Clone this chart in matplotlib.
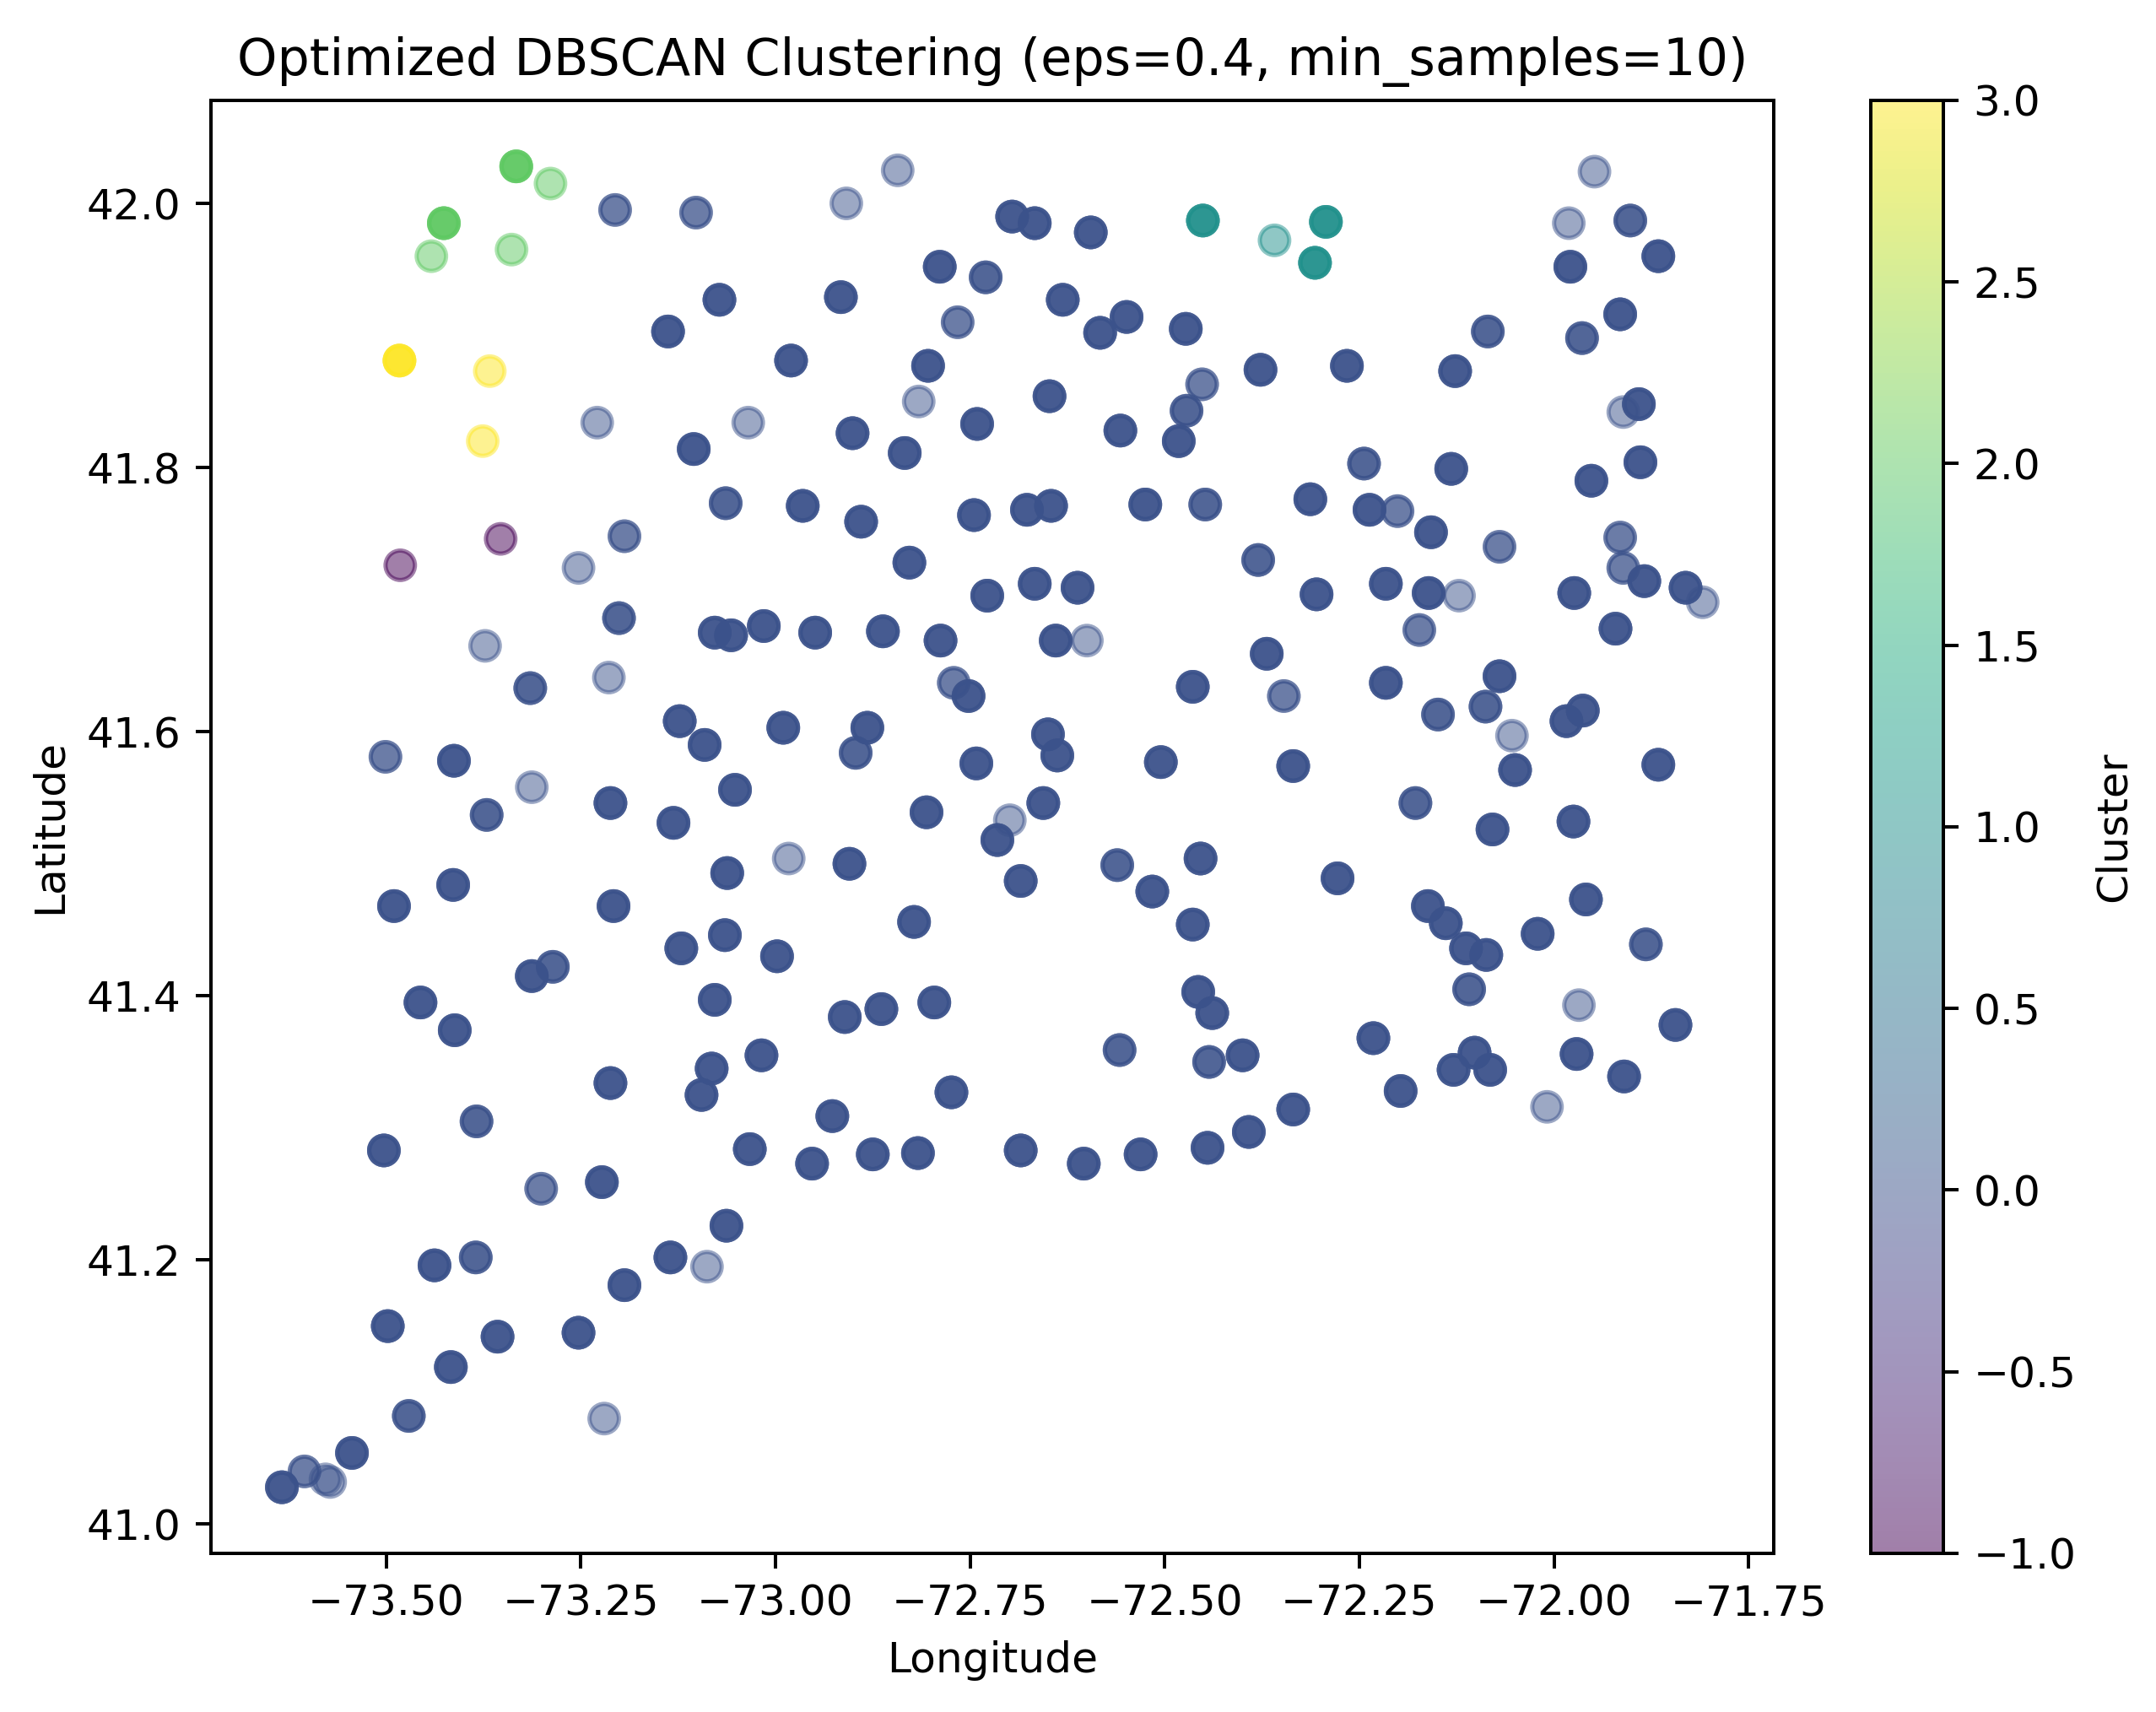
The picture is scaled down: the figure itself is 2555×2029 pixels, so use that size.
import numpy as np
import matplotlib
matplotlib.use('Agg')
import matplotlib.pyplot as plt


# station coordinates, one entry per visible marker
lon = [
    # cluster 3 / 2 / 1 / -1
    -73.483, -73.367, -73.376,
    -73.333, -73.289, -73.426, -73.442, -73.339,
    -72.451, -72.359, -72.293, -72.307,
    -73.353, -73.482,
    # cluster 0, north-west
    -73.206, -73.102, -73.072, -73.138, -73.229, -73.105, -73.064, -73.194, -73.253,
    # north-centre
    -72.843, -72.909, -72.696, -72.667, -72.595, -72.789, -72.730, -72.916, -72.766,
    -72.631, -72.583, -72.549, -72.473, -72.377, -72.452, -72.472, -72.482, -72.980,
    -72.804, -72.816, -73.035, -72.901, -72.834, -72.741, -72.648, -72.557, -72.965,
    -72.890, -72.745, -72.677, -72.646, -72.525, -72.448, -72.380, -72.828, -72.728,
    -72.667, -72.612,
    # north-east
    -71.948, -71.981, -71.902, -71.979, -71.866, -71.915, -71.964, -72.085, -72.266,
    -72.127, -71.911, -71.891, -72.244, -72.132, -71.952, -71.889, -72.313, -72.237,
    -72.201, -72.158, -72.070, -71.915, -71.911, -71.884, -71.831, -71.809, -71.974,
    -72.161, -72.122, -72.216, -72.305,
    # middle-west
    -73.201, -73.078, -73.057, -73.373, -73.315, -73.214, -73.123, -73.091, -73.501,
    -73.413, -73.313, -73.371, -73.212, -73.131, -73.414, -73.490, -73.208, -73.121,
    -73.313, -73.286, -73.078, -73.456, -73.412, -73.212, -73.082, -73.095,
    # middle-centre
    -73.015, -72.949, -72.862, -72.788, -72.640, -72.600, -72.771, -72.752, -72.464,
    -72.990, -72.882, -72.897, -72.650, -72.638, -72.742, -72.505, -73.052, -72.806,
    -72.656, -72.699, -72.715, -72.983, -72.905, -73.062, -72.685, -72.561, -72.454,
    -72.516, -72.464, -72.822, -73.065, -72.998, -72.911, -72.864, -72.796, -72.457,
    -72.439, -73.018, -72.558, -72.443, -72.400, -72.774,
    # middle-east
    -72.173, -71.921, -72.369, -72.347, -72.216, -72.070, -72.149, -72.088, -72.054,
    -71.984, -71.963, -72.335, -72.050, -71.866, -72.178, -72.079, -71.975, -72.278,
    -72.162, -72.139, -72.113, -72.087, -72.021, -71.959, -71.882, -72.109, -71.968,
    -71.844, -72.232, -72.129, -72.102, -72.082, -71.971, -71.910, -72.197,
    # south-west
    -73.384, -73.503, -73.301, -73.223, -73.063, -73.438, -73.385, -73.135, -73.088,
    -73.194, -73.498, -73.357, -73.253, -73.417, -73.471, -73.220, -73.544, -73.634,
    -73.605, -73.578, -73.572,
    # south coast
    -72.927, -73.033, -72.953, -72.875, -72.817, -72.685, -72.604, -72.531, -72.445,
    -72.392, -72.335, -72.009,
]

lat = [
    41.881, 41.873, 41.820,
    42.028, 42.015, 41.985, 41.960, 41.965,
    41.987, 41.972, 41.986, 41.955,
    41.746, 41.726,
    41.995, 41.993, 41.927, 41.903, 41.834, 41.814, 41.773, 41.748, 41.724,
    42.025, 42.000, 41.990, 41.985, 41.978, 41.952, 41.944, 41.929, 41.910,
    41.927, 41.902, 41.914, 41.905, 41.874, 41.863, 41.843, 41.820, 41.881,
    41.877, 41.850, 41.834, 41.826, 41.811, 41.833, 41.854, 41.828, 41.771,
    41.759, 41.764, 41.768, 41.771, 41.772, 41.772, 41.730, 41.728, 41.703,
    41.712, 41.709,
    42.024, 41.985, 41.987, 41.952, 41.960, 41.916, 41.898, 41.903, 41.877,
    41.873, 41.842, 41.848, 41.803, 41.799, 41.790, 41.804, 41.776, 41.768,
    41.767, 41.751, 41.740, 41.747, 41.724, 41.714, 41.709, 41.698, 41.705,
    41.705, 41.703, 41.712, 41.704,
    41.686, 41.675, 41.673, 41.665, 41.633, 41.641, 41.608, 41.590, 41.581,
    41.578, 41.558, 41.537, 41.546, 41.531, 41.484, 41.468, 41.468, 41.436,
    41.415, 41.422, 41.397, 41.395, 41.374, 41.334, 41.345, 41.325,
    41.680, 41.675, 41.676, 41.669, 41.669, 41.669, 41.637, 41.627, 41.634,
    41.603, 41.603, 41.584, 41.598, 41.582, 41.576, 41.577, 41.556, 41.539,
    41.546, 41.533, 41.518, 41.504, 41.500, 41.493, 41.487, 41.499, 41.504,
    41.479, 41.454, 41.456, 41.446, 41.430, 41.384, 41.390, 41.395, 41.403,
    41.387, 41.355, 41.359, 41.350, 41.355, 41.327,
    41.677, 41.678, 41.659, 41.627, 41.637, 41.642, 41.613, 41.619, 41.597,
    41.608, 41.616, 41.574, 41.571, 41.575, 41.546, 41.526, 41.532, 41.489,
    41.468, 41.455, 41.436, 41.431, 41.447, 41.473, 41.439, 41.405, 41.393,
    41.378, 41.368, 41.344, 41.357, 41.344, 41.356, 41.339, 41.328,
    41.305, 41.283, 41.254, 41.259, 41.226, 41.196, 41.202, 41.202, 41.195,
    41.181, 41.150, 41.142, 41.145, 41.119, 41.082, 41.080, 41.054, 41.028,
    41.040, 41.034, 41.032,
    41.309, 41.284, 41.273, 41.280, 41.281, 41.283, 41.273, 41.280, 41.285,
    41.297, 41.314, 41.316,
]

# the first 14 markers are the non-zero clusters, everything after is cluster 0
labels = [3, 3, 3, 2, 2, 2, 2, 2, 1, 1, 1, 1, -1, -1]
labels = labels + [0] * (len(lon) - len(labels))

# how many records sit on top of each other at a marker (darker = more)
stacked = [
    4, 1, 1,
    4, 1, 4, 1, 1,
    4, 1, 4, 4,
    1, 1,
    2, 2, 4, 4, 1, 4, 3, 2, 1,
    1, 1, 4, 4, 4, 4, 3, 4, 2,
    4, 4, 4, 4, 4, 2, 3, 4, 4,
    4, 1, 1, 4, 4, 4, 4, 4, 4,
    4, 4, 4, 4, 4, 3, 3, 4, 4,
    4, 4,
    1, 1, 3, 4, 4, 4, 3, 3, 4,
    4, 1, 4, 3, 4, 4, 4, 4, 4,
    2, 4, 2, 2, 2, 4, 4, 1, 4,
    4, 1, 4, 4,
    3, 4, 4, 1, 3, 1, 4, 4, 2,
    4, 1, 3, 4, 4, 4, 4, 4, 4,
    4, 3, 4, 4, 4, 4, 4, 4,
    4, 4, 4, 4, 4, 1, 2, 4, 4,
    4, 4, 3, 4, 4, 4, 4, 4, 4,
    4, 1, 4, 1, 4, 4, 4, 3, 4,
    4, 4, 4, 4, 4, 4, 4, 4, 4,
    4, 4, 3, 3, 4, 4,
    2, 4, 4, 2, 4, 4, 3, 3, 1,
    4, 4, 4, 4, 4, 3, 4, 4, 4,
    4, 4, 4, 4, 4, 4, 3, 3, 1,
    4, 4, 4, 4, 4, 4, 4, 4,
    3, 4, 2, 4, 4, 4, 3, 4, 1,
    4, 4, 4, 4, 4, 3, 1, 4, 4,
    2, 1, 1,
    4, 4, 4, 4, 4, 4, 4, 4, 4,
    4, 4, 1,
]


def expand(values):
	return np.repeat(np.array(values, dtype=float), stacked)


x = expand(lon)
y = expand(lat)
c = expand(labels)

dpi = 362
fig = plt.figure(figsize=(2555 / dpi, 2029 / dpi), dpi=dpi)
ax = fig.add_axes([0.0978, 0.0927, 0.7249, 0.8487])
cax = fig.add_axes([0.8677, 0.0927, 0.0337, 0.8487])

sc = ax.scatter(x, y, c=c, cmap='viridis', alpha=0.5, s=48)
ax.set_title('Optimized DBSCAN Clustering (eps=0.4, min_samples=10)')
ax.set_xlabel('Longitude')
ax.set_ylabel('Latitude')

fig.colorbar(sc, cax=cax, label='Cluster')

fig.savefig('out.png', dpi=dpi)
